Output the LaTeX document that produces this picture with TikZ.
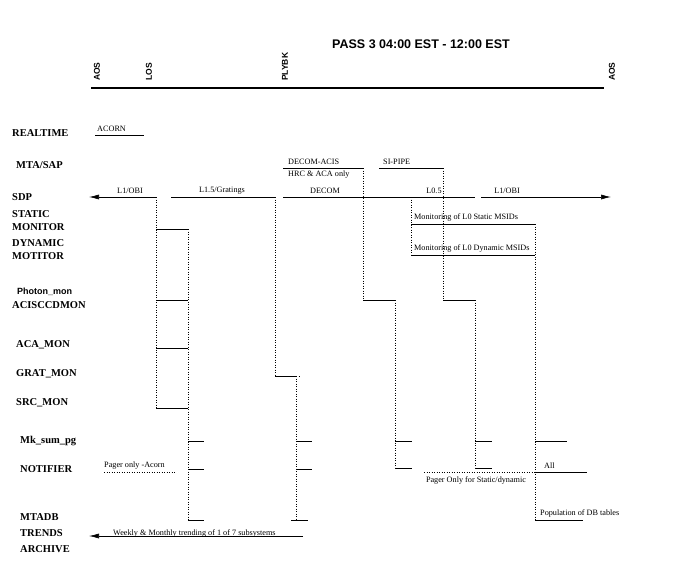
\documentclass[tikz,border=0pt]{standalone}
\usepackage{fontspec}
\setmainfont{Liberation Serif}
\newfontfamily\hv{Liberation Sans}
\usetikzlibrary{arrows.meta}
\begin{document}
\begin{tikzpicture}[x=1pt,y=-1pt,
  lbl/.style={font=\bfseries\fontsize{10.5}{13}\selectfont,anchor=west,align=left,inner sep=0},
  tl/.style={font=\hv\bfseries\fontsize{8.5}{9}\selectfont,rotate=90,anchor=west,inner sep=0},
  sm/.style={font=\fontsize{8.2}{9}\selectfont,inner sep=0},
  seg/.style={line width=0.6pt},
  dt/.style={line width=0.5pt,dotted},
  arr/.style={line width=0.6pt,-{Latex[length=10pt,width=5pt]}}]
\useasboundingbox (0,0) rectangle (677,563);
% title & timeline
\node[font=\hv\bfseries\fontsize{12.5}{14}\selectfont] (title) at (421,44) {PASS 3 04:00 EST - 12:00 EST};
\draw[line width=1.3pt] (91,88) coordinate (t0) -- (604,88) coordinate (t1);
\node[tl] (aos1) at (97,81) {AOS};
\node[tl] (los) at (149,81) {LOS};
\node[tl] (plybk) at (285,81) {PLYBK};
\node[tl] (aos2) at (612,81) {AOS};
% row labels
\node[lbl] (r1) at (12,133) {REALTIME};
\node[lbl] (r2) at (16,165) {MTA/SAP};
\node[lbl] (r3) at (12,197) {SDP};
\node[lbl] (r4) at (12,221) {STATIC\\MONITOR};
\node[lbl] (r5) at (12,250) {DYNAMIC\\MOTITOR};
\node[lbl,font=\hv\bfseries\fontsize{9}{10}\selectfont] (r6a) at (17,292) {Photon\_mon};
\node[lbl] (r6) at (12,305) {ACISCCDMON};
\node[lbl] (r7) at (16,345) {ACA\_MON};
\node[lbl] (r8) at (16,374) {GRAT\_MON};
\node[lbl] (r9) at (16,403) {SRC\_MON};
\node[lbl] (r10) at (20,441) {Mk\_sum\_pg};
\node[lbl] (r11) at (20,469) {NOTIFIER};
\node[lbl] (r12) at (20,517) {MTADB};
\node[lbl] (r13) at (20,533) {TRENDS};
\node[lbl] (r14) at (20,549) {ARCHIVE};
% realtime
\draw[seg] (95,135) -- (144,135);
\node[sm,anchor=south west] (acorn) at (97,132) {ACORN};
% MTA/SAP
\draw[seg] (283,168) -- (363,168);
\node[sm,anchor=south west] (dacis) at (288,165) {DECOM-ACIS};
\node[sm,anchor=west] (hrc) at (288,175) {HRC \& ACA only};
\draw[seg] (379,168) -- (443,168);
\node[sm,anchor=south west] (sipipe) at (383,165) {SI-PIPE};
% SDP
\draw[arr] (156,197) -- (89,197);
\node[sm,anchor=south] (l1a) at (130,194) {L1/OBI};
\draw[seg] (171,197) -- (275,197);
\node[sm,anchor=south] (l15) at (222,194) {L1.5/Gratings};
\draw[seg] (283,197) -- (411,197);
\node[sm,anchor=south] (decom) at (325,194) {DECOM};
\draw[seg] (411,197) -- (475,197);
\node[sm,anchor=south] (l05) at (434,194) {L0.5};
\draw[arr] (481,197) -- (611,197);
\node[sm,anchor=south] (l1b) at (507,194) {L1/OBI};
% L1/OBI branch
\draw[dt] (156,197) -- (156,408);
\foreach \y in {229,300,348,408} \draw[seg] (156,\y) -- (188,\y);
\draw[dt] (188,229) -- (188,520);
\foreach \y in {441,469,520} \draw[seg] (188,\y) -- (204,\y);
% L1.5 branch
\draw[dt] (275,197) -- (275,376);
\draw[seg] (275,376) -- (296,376);
\draw[dt] (296,376) -- (296,520) (296,376) -- (299,376);
\foreach \y in {441,469} \draw[seg] (296,\y) -- (312,\y);
\draw[seg] (291,520) -- (308,520);
% DECOM-ACIS branch
\draw[dt] (363,168) -- (363,300);
\draw[seg] (363,300) -- (395,300);
\draw[dt] (395,300) -- (395,468);
\foreach \y in {441,468} \draw[seg] (395,\y) -- (412,\y);
% SI-PIPE branch
\draw[dt] (443,168) -- (443,300);
\draw[seg] (443,300) -- (475,300);
\draw[dt] (475,300) -- (475,468);
\foreach \y in {441,468} \draw[seg] (475,\y) -- (492,\y);
% monitoring
\draw[dt] (411,197) -- (411,255);
\draw[seg] (411,224) -- (535,224);
\draw[seg] (411,255) -- (535,255);
\node[sm,anchor=south west] (mst) at (414,221) {Monitoring of L0 Static MSIDs};
\node[sm,anchor=south west] (mdy) at (414,252) {Monitoring of L0 Dynamic MSIDs};
\draw[dt] (535,224) -- (535,520);
\draw[seg] (535,441) -- (567,441);
\draw[seg] (535,472) -- (587,472);
\node[sm,anchor=south west] (all) at (544,469) {All};
\draw[seg] (535,520) -- (583,520);
\node[sm,anchor=south west] (pop) at (540,517) {Population of DB tables};
% pager
\draw[dt] (424,472) -- (535,472);
\node[sm,anchor=north] (pst) at (476,477) {Pager Only for Static/dynamic};
\draw[dt] (104,472) -- (176,472);
\node[sm,anchor=south west] (pac) at (104,469) {Pager only -Acorn};
% trends
\draw[arr] (303,536) -- (89,536);
\node[sm,anchor=south west] (wk) at (113,537) {Weekly \& Monthly trending of 1 of 7 subsystems};
\end{tikzpicture}
\end{document}
